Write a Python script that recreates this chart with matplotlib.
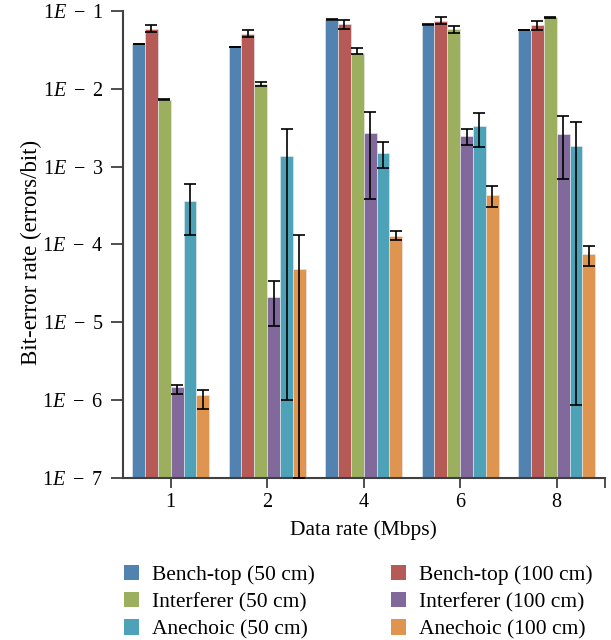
import numpy as np
import matplotlib
matplotlib.use("Agg")
import matplotlib.pyplot as plt
from matplotlib.patches import Patch

plt.rcParams['font.family'] = ['Liberation Serif', 'DejaVu Serif']
plt.rcParams['mathtext.fontset'] = 'custom'
plt.rcParams['mathtext.rm'] = 'Liberation Serif'
plt.rcParams['mathtext.it'] = 'Liberation Serif:italic'

categories = ['1', '2', '4', '6', '8']
series = ['Bench-top (50 cm)', 'Bench-top (100 cm)', 'Interferer (50 cm)',
          'Interferer (100 cm)', 'Anechoic (50 cm)', 'Anechoic (100 cm)']
colors = ['#5282B0', '#B65A57', '#9BAF5F', '#816A9B', '#4EA2B8', '#DF954F']

# mean values
bench50 = [0.0376, 0.0344, 0.0766, 0.066, 0.0569]
bench100 = [0.058, 0.051, 0.068, 0.075, 0.0655]
interf50 = [0.00723, 0.0114, 0.0285, 0.058, 0.083]
interf100 = [1.36e-6, 2.1e-5, 2.67e-3, 2.46e-3, 2.59e-3]
anech50 = [3.59e-4, 1.36e-3, 1.49e-3, 3.31e-3, 1.85e-3]
anech100 = [1.05e-6, 4.78e-5, 1.27e-4, 4.29e-4, 7.46e-5]

# error bar lower / upper bounds
bench50_lo = [0.0372, 0.0341, 0.0756, 0.065, 0.0563]
bench50_hi = [0.0380, 0.0347, 0.0776, 0.067, 0.0575]
bench100_lo = [0.053, 0.046, 0.059, 0.067, 0.056]
bench100_hi = [0.065, 0.0564, 0.0773, 0.0845, 0.075]
interf50_lo = [0.00716, 0.0107, 0.0277, 0.052, 0.0822]
interf50_hi = [0.00730, 0.0121, 0.0337, 0.064, 0.0838]
interf100_lo = [1.2e-6, 9.0e-6, 3.77e-4, 1.87e-3, 6.95e-4]
interf100_hi = [1.57e-6, 3.35e-5, 5.0e-3, 3.05e-3, 4.5e-3]
anech50_lo = [1.30e-4, 1.0e-6, 9.6e-4, 1.78e-3, 8.7e-7]
anech50_hi = [5.98e-4, 3.05e-3, 2.04e-3, 4.9e-3, 3.76e-3]
anech100_lo = [7.6e-7, 1.0e-7, 1.12e-4, 3.06e-4, 5.27e-5]
anech100_hi = [1.36e-6, 1.31e-4, 1.48e-4, 5.6e-4, 9.64e-5]

values = [bench50, bench100, interf50, interf100, anech50, anech100]
lows = [bench50_lo, bench100_lo, interf50_lo, interf100_lo, anech50_lo, anech100_lo]
highs = [bench50_hi, bench100_hi, interf50_hi, interf100_hi, anech50_hi, anech100_hi]

fig = plt.figure(figsize=(6.11, 6.4), dpi=100)
ax = fig.add_axes([0.2005, 0.2535, 0.7895, 0.7295])

x = np.arange(len(categories))
w = 0.8 / 6
for i, (v, lo, hi) in enumerate(zip(values, lows, highs)):
    v = np.array(v); lo = np.array(lo); hi = np.array(hi)
    pos = x - 0.4 + w * (i + 0.5)
    ax.bar(pos, v, width=w, color=colors[i], edgecolor='#e8eef2', linewidth=0.4,
           bottom=1e-7, zorder=2)
    ax.errorbar(pos, v, yerr=[v - lo, hi - v], fmt='none', ecolor='black',
                elinewidth=1.2, capsize=4.5, capthick=1.2, zorder=3)

ax.set_yscale('log')
ax.set_ylim(1e-7, 1e-1)
ax.set_xlim(-0.5, 4.5)
ax.set_yticks([1e-7, 1e-6, 1e-5, 1e-4, 1e-3, 1e-2, 1e-1])
ax.set_yticklabels([r'$1\mathit{E}\ -\ %d$' % k for k in [7, 6, 5, 4, 3, 2, 1]])
ax.yaxis.set_minor_locator(matplotlib.ticker.NullLocator())
ax.set_xticks(x)
ax.set_xticklabels(categories)
ax.set_xticks([4.5], minor=True)

for s in ['top', 'right']:
    ax.spines[s].set_visible(False)
for s in ['left', 'bottom']:
    ax.spines[s].set_color('#404040')
    ax.spines[s].set_linewidth(1.5)
ax.tick_params(axis='both', which='both', direction='out', color='#404040',
               width=1.3, labelsize=14.5, colors='black')
ax.tick_params(axis='y', length=9, pad=5)
ax.tick_params(axis='x', which='both', length=7, pad=4)
for t in ax.get_xticklabels() + ax.get_yticklabels():
    t.set_color('black')

ax.set_xlabel('Data rate (Mbps)', fontsize=15.5, labelpad=6)
ax.set_ylabel('Bit-error rate (errors/bit)', fontsize=16.5)
ax.yaxis.set_label_coords(-0.167, 0.483)

handles = [Patch(facecolor=c, edgecolor='none') for c in colors]
common = dict(loc='upper left', ncol=1, frameon=False, fontsize=15.5,
              handlelength=0.7, handleheight=0.7, handletextpad=0.6,
              labelspacing=0.33, borderaxespad=0, borderpad=0)
fig.legend(handles[0::2], series[0::2], bbox_to_anchor=(0.203, 0.117), **common)
fig.legend(handles[1::2], series[1::2], bbox_to_anchor=(0.640, 0.117), **common)

fig.savefig('out.png', dpi=100)
